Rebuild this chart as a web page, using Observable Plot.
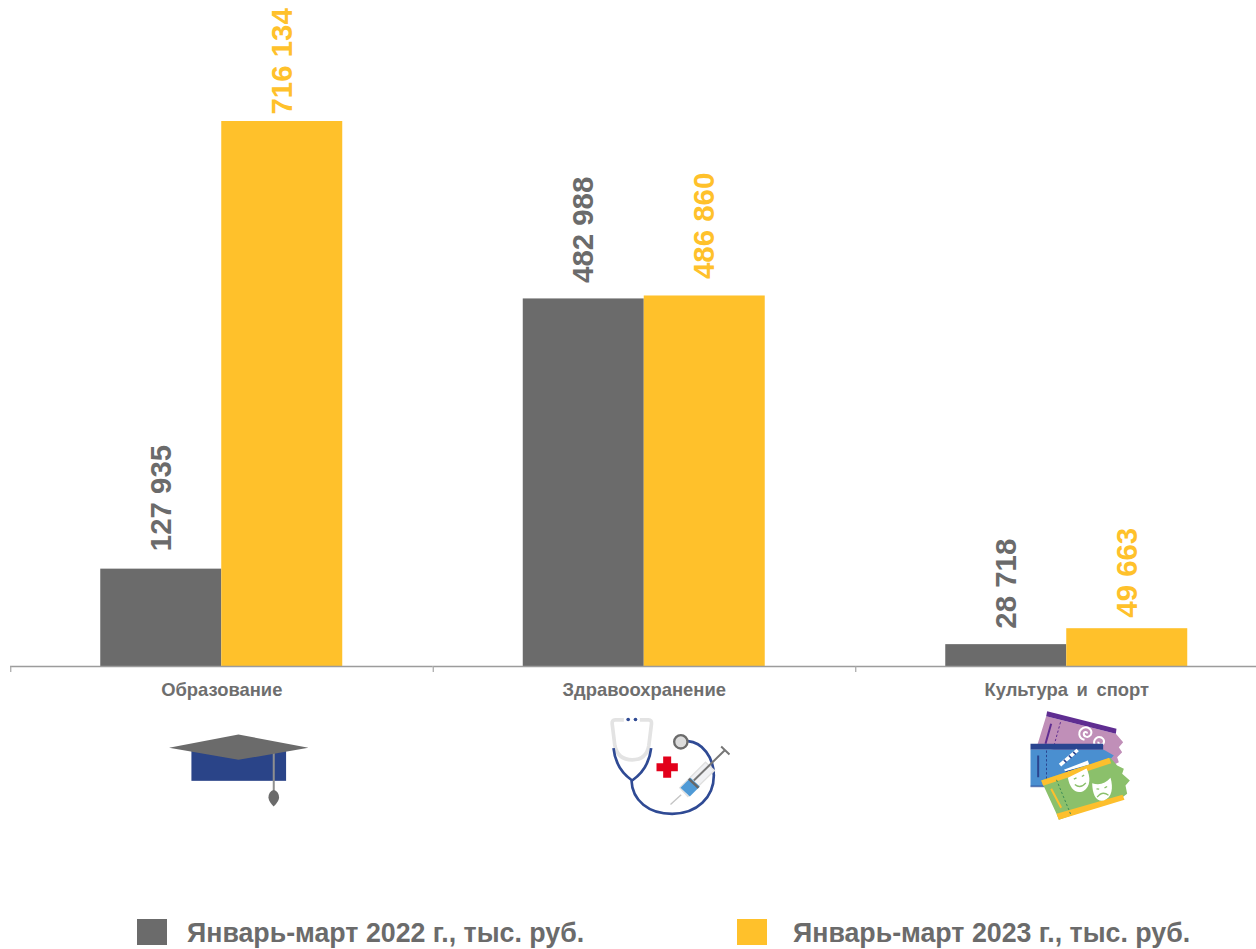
<!DOCTYPE html>
<html lang="ru">
<head>
<meta charset="utf-8">
<script src="https://cdn.jsdelivr.net/npm/d3@7"></script>
<script src="https://cdn.jsdelivr.net/npm/@observablehq/plot@0.6"></script>
<style>
html,body{margin:0;padding:0;background:#fff;overflow:hidden}
#chart svg{display:block}
#chart [aria-label="fx-axis tick label"]{word-spacing:3.5px}
#legend{position:relative;height:44px;font:bold 26.75px "Liberation Sans",Arial,sans-serif;color:#6b6b6b}
#legend span.sw{position:absolute;top:14px;width:30px;height:26px}
#legend span.tx{position:absolute;top:13px;line-height:30px;white-space:nowrap}
</style>
</head>
<body>
<div id="chart"></div>
<div id="legend"></div>
<script>
const categories = ["Образование", "Здравоохранение", "Культура и спорт"];
const seriesNames = ["Январь-март 2022 г., тыс. руб.", "Январь-март 2023 г., тыс. руб."];
const values2022 = [127935, 482988, 28718];
const values2023 = [716134, 486860, 49663];
const seriesColors = ["#6b6b6b", "#ffc12b"];
const labelGaps2022 = [-18, -16, -16];
const labelGaps2023 = [-7, -17, -11];

const capIcon = `<svg xmlns="http://www.w3.org/2000/svg" viewBox="0 0 600 480" width="200" height="160">
<rect x="122" y="265" width="284" height="96" fill="#2a4488"/>
<rect x="366" y="270" width="6" height="120" fill="#8f8f8f"/>
<path d="M369 388C380 392 385 400 385 412C384 422 375 432 369 438C362 432 354 422 353 412C353 400 358 392 369 388Z" fill="#6b6b6b"/>
<path d="M55 262L263 222L473 262L263 298Z" fill="#6b6b6b"/>
</svg>`;

const medIcon = `<svg xmlns="http://www.w3.org/2000/svg" viewBox="0 0 510 375" width="170" height="125">
<path d="M130 58H104Q94 58 95 70L103 135Q112 178 155 178Q198 178 205 135L213 70Q214 58 204 58H178" fill="none" stroke="#e3e3e3" stroke-width="11"/>
<circle cx="143" cy="57" r="5.5" fill="#2f4a94"/><circle cx="165" cy="57" r="5.5" fill="#2f4a94"/>
<path d="M99 143Q105 205 155 240M212 143Q205 205 155 240M153 240C155 300 205 340 275 340C350 340 400 290 400 225C400 170 365 125 322 122" fill="none" stroke="#2f4a94" stroke-width="8"/>
<circle cx="301" cy="124" r="20" fill="#dcdcdc" stroke="#6b6b6b" stroke-width="7"/>
<path d="M248 168H272V188H292V212H272V232H248V212H228V188H248Z" fill="#e2001a"/>
<path d="M270 312L302 283" stroke="#c4c4c4" stroke-width="4"/>
<path d="M298 262L375 185L402 210L322 288Z" fill="#f0f1f4" stroke="#e0e0e0" stroke-width="4"/>
<path d="M340 240L432 150M422 138L447 162" stroke="#777" stroke-width="6" fill="none"/>
<path d="M300 262L330 232L358 258L328 288Z" fill="#4f9ad6"/>
<path d="M325 235L354 262" stroke="#666" stroke-width="7"/>
</svg>`;

const ticketIcon = `<svg xmlns="http://www.w3.org/2000/svg" viewBox="0 0 420 375" width="140" height="125">
<path d="M107 47L316 100L338 125L325 140L335 155L320 170L325 185L305 195L80 135Z" fill="#c08fb8"/>
<path d="M110 32L318 85L316 100L107 47Z" fill="#5f2d91"/>
<path d="M122 70L105 130" stroke="#5f2d91" stroke-width="6"/>
<path d="M150 65L132 130" stroke="#5f2d91" stroke-width="3" stroke-dasharray="7 6"/>
<path d="M222 118C204 114 200 92 218 82C236 76 248 92 240 104C232 114 218 108 220 98C222 92 230 94 230 99" fill="none" stroke="#fff" stroke-width="6"/>
<path d="M262 142C248 136 246 118 262 110C277 108 285 120 278 130C271 136 262 132 264 124" fill="none" stroke="#fff" stroke-width="6"/>
<path d="M60 130H278V148H60Z" fill="#2a4590"/>
<path d="M60 148H280L310 165L296 180L310 195L290 215L290 258H60Z" fill="#4a8fd0"/>
<path d="M60 255H290V260H60Z" fill="#2a4590" opacity=".6"/>
<path d="M83 165V230" stroke="#2a4590" stroke-width="6"/>
<path d="M108 150V235" stroke="#2a4590" stroke-width="3" stroke-dasharray="7 6"/>
<path d="M160 208L232 180L236 192L165 212Z" fill="#fff"/>
<path d="M165 212L235 195V215L165 232Z" fill="#2a4590"/>
<path d="M175 212L180 230M190 208L196 226M205 205L211 222M220 200L226 218" stroke="#fff" stroke-width="6"/>
<path d="M145 190L198 145L205 152L152 198Z" fill="#fff"/>
<path d="M160 178L168 186M175 165L183 173M188 154L196 162" stroke="#2a4590" stroke-width="5"/>
<path d="M92 240L300 172L320 195L340 205L335 220L358 240L345 255L350 280L330 295L145 358L138 340Z" fill="#8bc06b"/>
<path d="M92 240L296 172L302 188L98 256Z" fill="#fdbf2d"/>
<path d="M138 340L336 283L342 298L145 358Z" fill="#fdbf2d"/>
<path d="M122 265L152 322" stroke="#fdbf2d" stroke-width="6"/>
<path d="M138 238L182 345" stroke="#3f8f58" stroke-width="3" stroke-dasharray="7 6"/>
<path d="M172 232L228 204C240 228 242 258 218 272C195 282 178 264 172 232Z" fill="#fff"/>
<path d="M193 252Q210 266 226 247" fill="none" stroke="#8bc06b" stroke-width="4"/>
<path d="M190 236L198 232M214 228L221 224" stroke="#8bc06b" stroke-width="4"/>
<path d="M245 248C265 256 285 250 300 232C309 262 305 292 280 300C256 304 246 282 245 248Z" fill="#fff"/>
<path d="M260 290Q275 270 294 284" fill="none" stroke="#8bc06b" stroke-width="4"/>
<path d="M258 265L266 266M282 262L290 258" stroke="#8bc06b" stroke-width="4"/>
</svg>`;

const iconSources = [capIcon, medIcon, ticketIcon].map(s => "data:image/svg+xml," + encodeURIComponent(s));
const iconWidths = [200, 170, 140];
const iconHeights = [160, 125, 125];
const iconDx = [29, 21.25, 13.75];
const iconDy = [74, 96.5, 96.5];

const rows = categories.flatMap((category, i) => [
  {category, series: seriesNames[0], value: values2022[i], gap: labelGaps2022[i]},
  {category, series: seriesNames[1], value: values2023[i], gap: labelGaps2023[i]}
]);
const fmt = d3.formatLocale({decimal: ".", thousands: " ", grouping: [3], currency: ["", ""]}).format(",d");
const font = '"Liberation Sans", Arial, sans-serif';

const chart = Plot.plot({
  width: 1256,
  height: 905,
  marginTop: 121,
  marginBottom: 239,
  marginLeft: 10,
  marginRight: -21.5,
  style: {fontFamily: font, background: "#fff"},
  fx: {domain: categories, padding: 0, round: false, label: null, axis: null},
  x: {domain: seriesNames, paddingInner: 0, paddingOuter: 0.746, round: false, axis: null},
  y: {domain: [0, 716134], axis: null},
  color: {domain: seriesNames, range: seriesColors},
  marks: [
    Plot.barY(rows, {fx: "category", x: "series", y: "value", fill: "series"}),
    Plot.ruleY([0], {stroke: "#9c9c9c", strokeWidth: 1.4}),
    Plot.ruleX(categories, {
      fx: d => d, x: () => seriesNames[0], y1: 0, y2: -8000,
      dx: -150.5, stroke: "#a6a6a6", strokeWidth: 1.2
    }),
    ...rows.map(row => Plot.text([row], {
      fx: "category", x: "series", y: "value", text: d => fmt(d.value),
      rotate: -90, textAnchor: "start", lineAnchor: "middle", dy: row.gap,
      fill: "series", fontSize: 29.4, fontWeight: "bold"
    })),
    Plot.axisFx({
      anchor: "bottom", tickSize: 0, tickPadding: 16, label: null,
      fontSize: 18.4, fontWeight: "bold", fill: "#6e6e6e"
    }),
    ...categories.map((category, i) => Plot.image([category], {
      fx: d => d, y: () => 0,
      src: () => iconSources[i],
      width: iconWidths[i], height: iconHeights[i],
      dx: iconDx[i], dy: iconDy[i]
    }))
  ]
});
document.getElementById("chart").appendChild(chart);

const lg = document.getElementById("legend");
[[137, 187], [737, 793]].forEach(([sx, tx], i) => {
  const s = document.createElement("span");
  s.className = "sw"; s.style.left = sx + "px"; s.style.background = seriesColors[i];
  const t = document.createElement("span");
  t.className = "tx"; t.style.left = tx + "px"; t.textContent = seriesNames[i];
  lg.append(s, t);
});
</script>
</body>
</html>
